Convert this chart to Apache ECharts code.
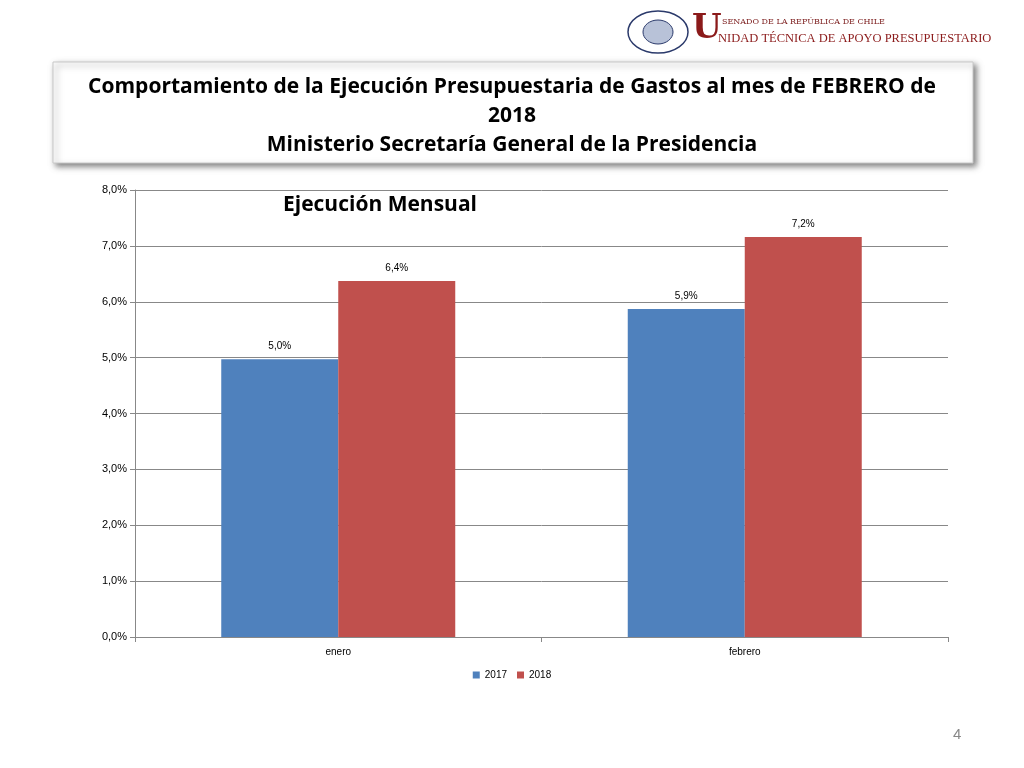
<!DOCTYPE html>
<html>
<head>
<meta charset="utf-8">
<script src="https://cdn.jsdelivr.net/npm/echarts@6/dist/echarts.min.js"></script>
<style>
body{margin:0;background:#fff;font-family:Calibri,Carlito,"Liberation Sans",sans-serif;}
#main{width:1024px;height:768px;}
</style>
</head>
<body>
<div id="main"></div>
<script>
var categories = ['enero', 'febrero'];
var s2017 = [4.97, 5.87];
var s2018 = [6.37, 7.16];
var labels2017 = ['5,0%', '5,9%'];
var labels2018 = ['6,4%', '7,2%'];

var myChart = echarts.init(document.getElementById('main'));
var font = '"Liberation Sans", sans-serif';
var option = {
    animation: false,
    backgroundColor: '#fff',
    graphic: [
        // title box with shadow
        {type: 'rect', shape: {x: 53, y: 62, width: 920, height: 101},
         style: {fill: '#fff', stroke: '#c8c8c8', lineWidth: 1, shadowBlur: 6, shadowOffsetX: 3, shadowOffsetY: 3, shadowColor: 'rgba(0,0,0,0.5)'}},
        {type: 'text', left: 'center', top: 73, style: {text: 'Comportamiento de la Ejecución Presupuestaria de Gastos al mes de FEBRERO de\n2018\nMinisterio Secretaría General de la Presidencia',
         fill: '#000', font: 'bold 21px "Open Sans", sans-serif', textAlign: 'center', lineHeight: 29}},
        // logo
        {type: 'ellipse', shape: {cx: 658, cy: 32, rx: 30, ry: 21}, style: {fill: '#fff', stroke: '#2b3a6b', lineWidth: 1.5}},
        {type: 'ellipse', shape: {cx: 658, cy: 32, rx: 15, ry: 12}, style: {fill: '#b8c2d8', stroke: '#2b3a6b', lineWidth: 1}},
        {type: 'text', left: 692, top: 12, style: {text: 'U', fill: '#8b1a1a', font: 'bold 34px "DejaVu Serif", serif'}},
        {type: 'text', left: 722, top: 18, style: {text: 'SENADO DE LA REPÚBLICA DE CHILE', fill: '#7a1a1a', font: '8px "DejaVu Serif", serif'}},
        {type: 'text', left: 718, top: 32, style: {text: 'NIDAD TÉCNICA DE APOYO PRESUPUESTARIO', fill: '#8b1a1a', font: '12.5px "Liberation Serif", serif'}},
        {type: 'text', left: 283, top: 195, style: {text: 'Ejecución Mensual', fill: '#000', font: 'bold 21px "Open Sans", sans-serif'}},
        {type: 'text', left: 953, top: 727, style: {text: '4', fill: '#888', font: '15px ' + font}}
    ],
    legend: {
        bottom: 83, left: 'center', itemWidth: 7, itemHeight: 7, itemGap: 10, icon: 'rect',
        textStyle: {fontSize: 10, color: '#000', fontFamily: font},
        data: ['2017', '2018']
    },
    grid: {left: 135, right: 76, top: 190, bottom: 131},
    xAxis: {
        type: 'category', data: categories,
        axisLine: {lineStyle: {color: '#888'}},
        axisTick: {show: true, alignWithLabel: false, lineStyle: {color: '#888'}},
        axisLabel: {color: '#000', fontSize: 10, fontFamily: font, margin: 10}
    },
    yAxis: {
        type: 'value', min: 0, max: 8, interval: 1,
        axisLine: {show: true, lineStyle: {color: '#888'}},
        axisTick: {show: true, lineStyle: {color: '#888'}},
        splitLine: {lineStyle: {color: '#888'}},
        axisLabel: {color: '#000', fontSize: 11, fontFamily: font,
            formatter: function (v) { return v.toFixed(1).replace('.', ',') + '%'; }}
    },
    series: [{
        name: '2017', type: 'bar', data: s2017, barWidth: 117, barGap: '0%',
        itemStyle: {color: '#4f81bd'},
        label: {show: true, position: 'top', distance: 8, fontSize: 10, color: '#000', fontFamily: font,
            formatter: function (p) { return labels2017[p.dataIndex]; }}
    }, {
        name: '2018', type: 'bar', data: s2018, barWidth: 117,
        itemStyle: {color: '#c0504d'},
        label: {show: true, position: 'top', distance: 8, fontSize: 10, color: '#000', fontFamily: font,
            formatter: function (p) { return labels2018[p.dataIndex]; }}
    }]
};
myChart.setOption(option);
</script>
</body>
</html>
